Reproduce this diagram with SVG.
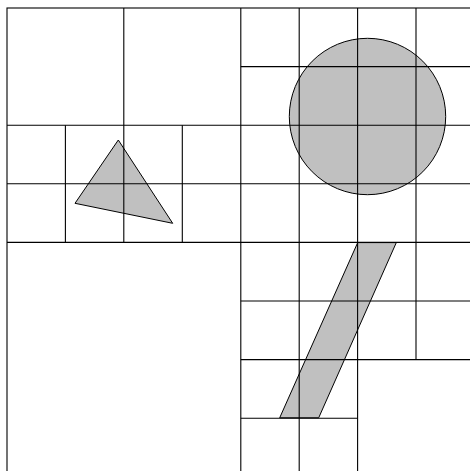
<svg xmlns="http://www.w3.org/2000/svg" width="470" height="471" viewBox="0 0 470 471">
<style>
.shape{fill:#c0c0c0;stroke:#000;stroke-width:1}
.grid line,.grid rect{stroke:#000;stroke-width:1.1;fill:none}
</style>
<rect width="470" height="471" fill="#fff"/>
<g id="circle"><circle class="shape" cx="367.5" cy="116.5" r="78.2"/></g>
<g id="triangle"><polygon class="shape" points="118.3,140 75,203.3 172.7,223.3"/></g>
<g id="parallelogram"><polygon class="shape" points="357.7,242.6 396.3,242.6 318.7,417.8 279.7,417.8"/></g>
<g id="grid" class="grid">
<rect x="7" y="8" width="467.4" height="468.8"/>
<line x1="240.8" y1="8" x2="240.8" y2="476.8"/>
<line x1="7" y1="242.4" x2="474.4" y2="242.4"/>
<line x1="123.8" y1="8" x2="123.8" y2="242.4"/>
<line x1="7" y1="125.2" x2="474.4" y2="125.2"/>
<line x1="65.4" y1="125.2" x2="65.4" y2="242.4"/>
<line x1="182.3" y1="125.2" x2="182.3" y2="242.4"/>
<line x1="7" y1="183.8" x2="474.4" y2="183.8"/>
<line x1="357.6" y1="8" x2="357.6" y2="476.8"/>
<line x1="299.2" y1="8" x2="299.2" y2="476.8"/>
<line x1="416" y1="8" x2="416" y2="359.6"/>
<line x1="240.8" y1="66.6" x2="474.4" y2="66.6"/>
<line x1="240.8" y1="301" x2="474.4" y2="301"/>
<line x1="240.8" y1="359.6" x2="474.4" y2="359.6"/>
<line x1="240.8" y1="418.2" x2="357.6" y2="418.2"/>
</g>
</svg>
